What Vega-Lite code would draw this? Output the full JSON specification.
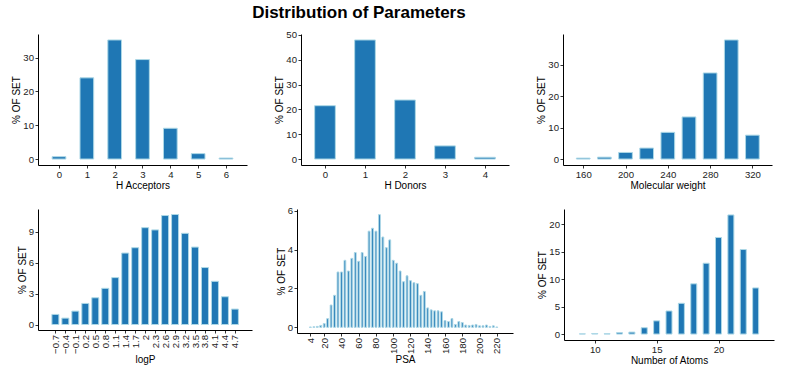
{
  "$schema": "https://vega.github.io/schema/vega-lite/v6.json",
  "padding": {"left": 11, "top": 3, "right": 5, "bottom": 5},
  "title": {
    "text": "Distribution of Parameters",
    "anchor": "middle",
    "fontSize": 17,
    "fontWeight": "bold",
    "color": "#000",
    "font": "Liberation Sans",
    "dx": -34,
    "offset": 8
  },
  "spacing": 14,
  "vconcat": [
    {
      "spacing": 27,
      "hconcat": [
        {
          "width": 209, "height": 131,
          "data": {"values": [
            {"acceptors": 0, "pct": 0.7}, {"acceptors": 1, "pct": 24.0}, {"acceptors": 2, "pct": 35.2},
            {"acceptors": 3, "pct": 29.4}, {"acceptors": 4, "pct": 9.1}, {"acceptors": 5, "pct": 1.6},
            {"acceptors": 6, "pct": 0.3}
          ]},
          "mark": {"type": "bar", "width": 13.7},
          "encoding": {
            "x": {"field": "acceptors", "type": "quantitative", "title": "H Acceptors",
                  "scale": {"domain": [-0.575, 6.575], "nice": false, "zero": false},
                  "axis": {"values": [0, 1, 2, 3, 4, 5, 6], "format": "d"}},
            "y": {"field": "pct", "type": "quantitative", "title": "% OF SET",
                  "scale": {"domain": [-1.76, 36.96], "nice": false, "zero": false},
                  "axis": {"values": [0, 10, 20, 30]}}
          }
        },
        {
          "width": 208, "height": 131,
          "data": {"values": [
            {"donors": 0, "pct": 21.5}, {"donors": 1, "pct": 48.0}, {"donors": 2, "pct": 23.8},
            {"donors": 3, "pct": 5.3}, {"donors": 4, "pct": 0.7}
          ]},
          "mark": {"type": "bar", "width": 20.7},
          "encoding": {
            "x": {"field": "donors", "type": "quantitative", "title": "H Donors",
                  "scale": {"domain": [-0.475, 4.475], "nice": false, "zero": false},
                  "axis": {"values": [0, 1, 2, 3, 4], "format": "d"}},
            "y": {"field": "pct", "type": "quantitative", "title": "% OF SET",
                  "scale": {"domain": [-2.4, 50.4], "nice": false, "zero": false},
                  "axis": {"values": [0, 10, 20, 30, 40, 50]}}
          }
        },
        {
          "width": 209, "height": 131,
          "data": {"values": [
            {"mw": 160, "pct": 0.3}, {"mw": 180, "pct": 0.6}, {"mw": 200, "pct": 2.1},
            {"mw": 220, "pct": 3.5}, {"mw": 240, "pct": 8.5}, {"mw": 260, "pct": 13.4},
            {"mw": 280, "pct": 27.4}, {"mw": 300, "pct": 37.9}, {"mw": 320, "pct": 7.6}
          ]},
          "mark": {"type": "bar", "width": 13.7},
          "encoding": {
            "x": {"field": "mw", "type": "quantitative", "title": "Molecular weight",
                  "scale": {"domain": [145.6, 333.8], "nice": false, "zero": false},
                  "axis": {"values": [160, 200, 240, 280, 320], "format": "d"}},
            "y": {"field": "pct", "type": "quantitative", "title": "% OF SET",
                  "scale": {"domain": [-1.895, 39.795], "nice": false, "zero": false},
                  "axis": {"values": [0, 10, 20, 30]}}
          }
        }
      ]
    },
    {
      "spacing": 24,
      "hconcat": [
        {
          "width": 214, "height": 121,
          "data": {"values": [
            {"logp": -0.7, "pct": 0.98}, {"logp": -0.4, "pct": 0.62}, {"logp": -0.1, "pct": 1.3},
            {"logp": 0.2, "pct": 2.05}, {"logp": 0.5, "pct": 2.6}, {"logp": 0.8, "pct": 3.52},
            {"logp": 1.1, "pct": 4.56}, {"logp": 1.4, "pct": 6.95}, {"logp": 1.7, "pct": 7.47},
            {"logp": 2.0, "pct": 9.42}, {"logp": 2.3, "pct": 9.2}, {"logp": 2.6, "pct": 10.6},
            {"logp": 2.9, "pct": 10.7}, {"logp": 3.2, "pct": 8.87}, {"logp": 3.5, "pct": 7.53},
            {"logp": 3.8, "pct": 5.54}, {"logp": 4.1, "pct": 4.2}, {"logp": 4.4, "pct": 2.7},
            {"logp": 4.7, "pct": 1.5}
          ]},
          "mark": {"type": "bar", "width": 7},
          "encoding": {
            "x": {"field": "logp", "type": "quantitative", "title": "logP",
                  "scale": {"domain": [-1.073, 5.064], "nice": false, "zero": false},
                  "axis": {"values": [-0.7, -0.4, -0.1, 0.2, 0.5, 0.8, 1.1, 1.4, 1.7, 2, 2.3, 2.6, 2.9, 3.2, 3.5, 3.8, 4.1, 4.4, 4.7],
                           "format": "~g", "labelAngle": -90}},
            "y": {"field": "pct", "type": "quantitative", "title": "% OF SET",
                  "scale": {"domain": [-0.535, 11.235], "nice": false, "zero": false},
                  "axis": {"values": [0, 3, 6, 9]}}
          }
        },
        {
          "width": 216, "height": 124,
          "data": {"values": [
            {"psa": 4, "pct": 0.02}, {"psa": 8, "pct": 0.03}, {"psa": 12, "pct": 0.05}, {"psa": 16, "pct": 0.1},
            {"psa": 20, "pct": 0.2}, {"psa": 24, "pct": 0.45}, {"psa": 28, "pct": 1.15}, {"psa": 32, "pct": 1.65},
            {"psa": 36, "pct": 2.85}, {"psa": 40, "pct": 2.85}, {"psa": 44, "pct": 3.45}, {"psa": 48, "pct": 2.9},
            {"psa": 52, "pct": 3.55}, {"psa": 56, "pct": 3.85}, {"psa": 60, "pct": 3.4}, {"psa": 64, "pct": 3.85},
            {"psa": 68, "pct": 3.65}, {"psa": 72, "pct": 4.95}, {"psa": 76, "pct": 5.1}, {"psa": 80, "pct": 4.95},
            {"psa": 84, "pct": 5.8}, {"psa": 88, "pct": 4.65}, {"psa": 92, "pct": 4.1}, {"psa": 96, "pct": 4.5},
            {"psa": 100, "pct": 3.45}, {"psa": 104, "pct": 3.3}, {"psa": 108, "pct": 2.9}, {"psa": 112, "pct": 2.35},
            {"psa": 116, "pct": 2.65}, {"psa": 120, "pct": 2.4}, {"psa": 124, "pct": 2.3}, {"psa": 128, "pct": 2.25},
            {"psa": 132, "pct": 1.65}, {"psa": 136, "pct": 1.85}, {"psa": 140, "pct": 1.0}, {"psa": 144, "pct": 0.9},
            {"psa": 148, "pct": 0.85}, {"psa": 152, "pct": 0.85}, {"psa": 156, "pct": 0.8}, {"psa": 160, "pct": 0.35},
            {"psa": 164, "pct": 0.3}, {"psa": 168, "pct": 0.45}, {"psa": 172, "pct": 0.15}, {"psa": 176, "pct": 0.3},
            {"psa": 180, "pct": 0.25}, {"psa": 184, "pct": 0.12}, {"psa": 188, "pct": 0.1}, {"psa": 192, "pct": 0.12},
            {"psa": 196, "pct": 0.15}, {"psa": 200, "pct": 0.08}, {"psa": 204, "pct": 0.08}, {"psa": 208, "pct": 0.12},
            {"psa": 212, "pct": 0.05}, {"psa": 216, "pct": 0.08}, {"psa": 220, "pct": 0.02}
          ]},
          "mark": {"type": "bar", "width": 1.8},
          "encoding": {
            "x": {"field": "psa", "type": "quantitative", "title": "PSA",
                  "scale": {"domain": [-5.7, 233], "nice": false, "zero": false},
                  "axis": {"values": [4, 20, 40, 60, 80, 100, 120, 140, 160, 180, 200, 220], "format": "d", "labelAngle": -90}},
            "y": {"field": "pct", "type": "quantitative", "title": "% OF SET",
                  "scale": {"domain": [-0.29, 6.09], "nice": false, "zero": false},
                  "axis": {"values": [0, 2, 4, 6]}}
          }
        },
        {
          "width": 210, "height": 131,
          "data": {"values": [
            {"atoms": 9, "pct": 0.03}, {"atoms": 10, "pct": 0.1}, {"atoms": 11, "pct": 0.05},
            {"atoms": 12, "pct": 0.25}, {"atoms": 13, "pct": 0.35}, {"atoms": 14, "pct": 1.15},
            {"atoms": 15, "pct": 2.4}, {"atoms": 16, "pct": 4.2}, {"atoms": 17, "pct": 5.6},
            {"atoms": 18, "pct": 9.15}, {"atoms": 19, "pct": 12.9}, {"atoms": 20, "pct": 17.6},
            {"atoms": 21, "pct": 21.7}, {"atoms": 22, "pct": 15.4}, {"atoms": 23, "pct": 8.4}
          ]},
          "mark": {"type": "bar", "width": 6},
          "encoding": {
            "x": {"field": "atoms", "type": "quantitative", "title": "Number of Atoms",
                  "scale": {"domain": [7.92, 24.08], "nice": false, "zero": false},
                  "axis": {"values": [10, 15, 20], "format": "d"}},
            "y": {"field": "pct", "type": "quantitative", "title": "% OF SET",
                  "scale": {"domain": [-1.085, 22.785], "nice": false, "zero": false},
                  "axis": {"values": [0, 5, 10, 15, 20]}}
          }
        }
      ]
    }
  ],
  "config": {
    "font": "Liberation Sans",
    "background": "#ffffff",
    "view": {"stroke": null},
    "axis": {
      "grid": false,
      "domainColor": "#000",
      "domainWidth": 1,
      "tickColor": "#333",
      "tickSize": 3,
      "labelFontSize": 9.6,
      "labelColor": "#222",
      "labelPadding": 1.5,
      "labelFlush": false,
      "labelOverlap": false,
      "titleFontSize": 10,
      "titleFontWeight": "normal",
      "titleColor": "#000",
      "titlePadding": 1
    },
    "bar": {"fill": "#1f77b4", "stroke": "#add8e6", "strokeWidth": 1}
  }
}
